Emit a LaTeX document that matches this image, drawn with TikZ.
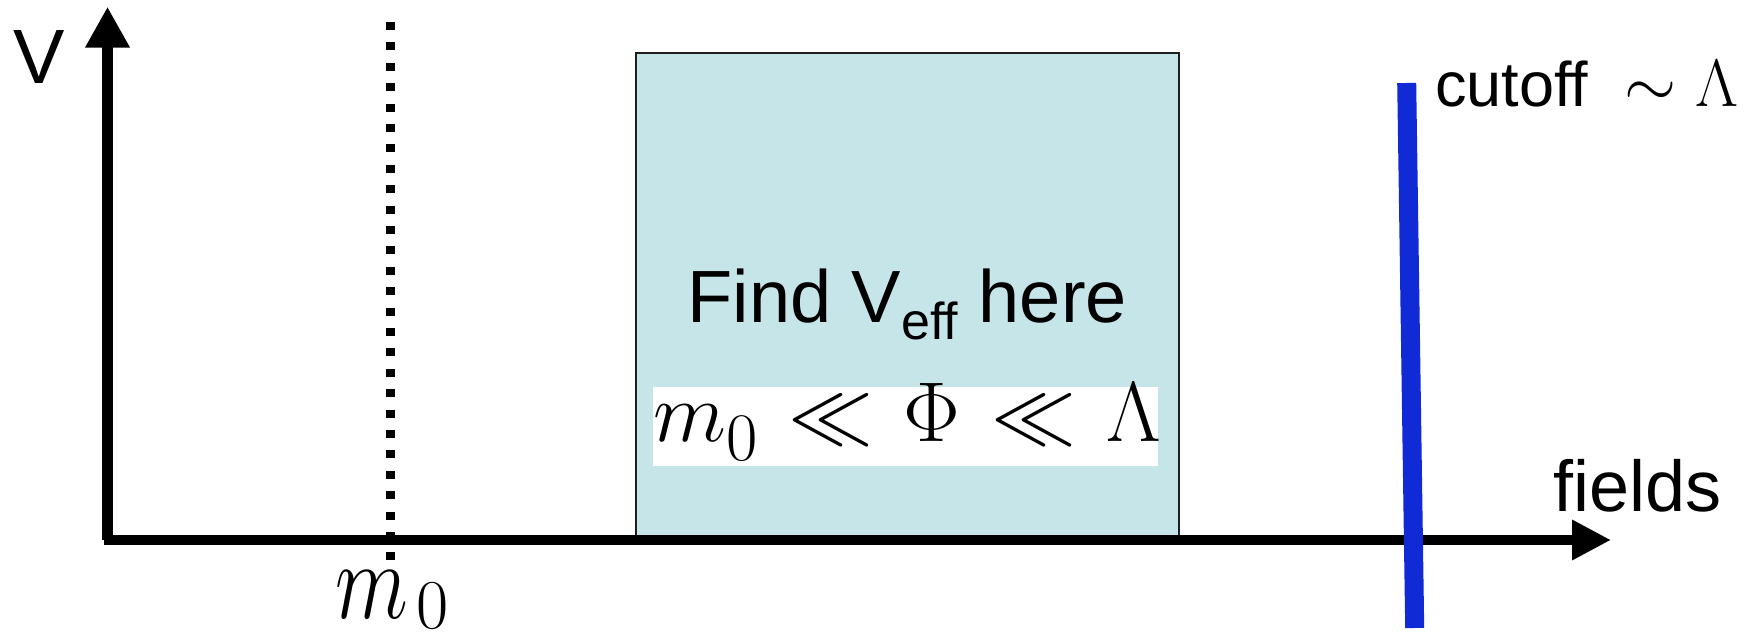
\RequirePackage{fix-cm}
\documentclass[tikz,border=0pt]{standalone}
\usepackage[no-math]{fontspec}
\setmainfont{Liberation Sans}
\usetikzlibrary{arrows.meta}
\definecolor{regionfill}{RGB}{197,229,232}
\definecolor{cutblue}{RGB}{16,42,214}
\definecolor{edgegray}{RGB}{30,30,30}
\tikzset{
  cutline/.style={line width=9.5pt, cutblue},
  markline/.style={line width=4.5pt, black, dash pattern=on 4pt off 6.2pt},
  regionbox/.style={draw=edgegray, line width=0.85pt, fill=regionfill,
    minimum width=271.5pt, minimum height=242.5pt, inner sep=0pt},
  bandbox/.style={fill=white, minimum width=252.5pt, minimum height=39.5pt, inner sep=0pt},
  lbl/.style={inner sep=0pt, anchor=base west},
}
\begin{document}
\begin{tikzpicture}[x=0.5pt, y=-0.5pt]
  \useasboundingbox (0,0) rectangle (1756,640);

  % shaded region of the field axis
  \node[regionbox] (region) at (907.5,295.5) {};
  \node[bandbox] (band) at (905.5,426.5) {};
  \node[lbl] (range) at (653,442)
    {\fontsize{42.5}{48}\selectfont \thickmuskip=6.5mu
     $m$\raisebox{-9.5pt}{\fontsize{34}{36}\selectfont $0$}$\;\ll \Phi \ll \Lambda$};
  \node[lbl] (find) at (687,323)
    {\fontsize{37}{40}\selectfont Find V\raisebox{-8.5pt}{\fontsize{26}{28}\selectfont ef{}f} here};

  % axes
  \coordinate (origin) at (107.5,540);
  \coordinate (vtip) at (107.5,6.7);
  \coordinate (hstart) at (104,540);
  \coordinate (htip) at (1611,540);
  \draw[line width=5.35pt, -{Triangle[length=20.5pt, width=21pt]}] (origin) -- (vtip);
  \draw[line width=4.75pt, -{Triangle[length=19.5pt, width=19pt]}] (hstart) -- (htip);

  % mass scale marker
  \coordinate (mtop) at (390,22);
  \coordinate (mbot) at (390,560);
  \draw[markline] (mtop) -- (mbot);

  % cutoff line
  \coordinate (cuttop) at (1406.7,83);
  \coordinate (cutbot) at (1414.7,628);
  \draw[cutline] (cuttop) -- (cutbot);

  % labels
  \node[inner sep=0pt, anchor=base] (vlabel) at (39,84) {\fontsize{38.5}{42}\selectfont V};
  \node[lbl] (mlabel) at (335,618)
    {\fontsize{42.5}{48}\selectfont \scalebox{1}[1.3]{$m$}\hspace{4pt}\raisebox{-5pt}{\fontsize{35}{38}\selectfont $0$}};
  \node[lbl] (cutlabel) at (1435,107)
    {\fontsize{31.5}{36}\selectfont cutoff\hspace{18pt}\fontsize{33.5}{36}\selectfont $\sim\Lambda$};
  \node[lbl] (fieldlabel) at (1553,512) {\fontsize{36}{40}\selectfont fields};
\end{tikzpicture}
\end{document}
